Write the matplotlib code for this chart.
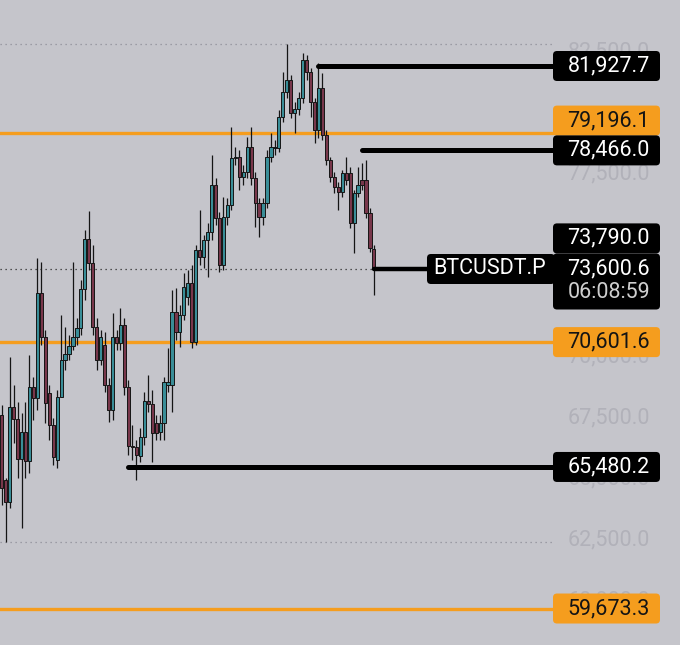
import matplotlib.pyplot as plt
from matplotlib.patches import FancyBboxPatch
from matplotlib.transforms import blended_transform_factory

plt.rcParams['font.family'] = ['Roboto', 'DejaVu Sans']

# BTCUSDT.P candles, oldest first
opens = [67612, 64945, 64043, 67940, 67447, 65807, 66915, 65725, 68760, 68309,
         72616, 70811, 68514, 67201, 65766, 68350, 69868, 70114, 70442, 70811,
         71181, 72780, 74831, 73847, 71222, 69868, 70483, 68842, 67817, 70811,
         70565, 71304, 68760, 66340, 66299, 65930, 66710, 68186, 68063, 67283,
         66915, 67283, 68842, 68842, 71837, 71016, 71714, 72452, 73026, 70606,
         74380, 74093, 74790, 75118, 77046, 75693, 73765, 75734, 76226, 78154,
         78195, 77375, 77580, 78605, 77334, 76308, 75734, 76308, 78195, 78564,
         78564, 79836, 80861, 81353, 79999, 80163, 80615, 82174, 81681, 80451,
         79302, 81025, 79098, 78072, 77375, 76964, 76759, 77539, 77539, 75488,
         76718, 77251, 77251, 75898, 74421]
closes = [64617, 64043, 67940, 67447, 65807, 66915, 65725, 68760, 68309, 72616,
          70811, 68104, 67201, 65889, 68350, 69868, 70114, 70442, 70811, 71181,
          72780, 74831, 73847, 71222, 69868, 70811, 68842, 67817, 70811, 70565,
          71304, 68760, 66340, 66299, 65971, 66710, 68186, 68063, 66874, 66874,
          67283, 68965, 68965, 71837, 71016, 71714, 72862, 73026, 70606, 74380,
          74093, 74790, 75118, 77046, 75693, 73765, 75734, 76226, 78154, 78195,
          77375, 77580, 78605, 77334, 76308, 75734, 76308, 78195, 78605, 78605,
          79836, 80861, 81353, 79999, 80163, 80615, 82174, 81681, 80451, 79302,
          81025, 79098, 78072, 77375, 76964, 76759, 77539, 77251, 75488, 76718,
          77046, 77046, 75898, 74462, 73600.6]
highs = [68022, 65027, 69991, 68842, 68145, 67694, 68145, 70073, 69170, 74052,
         73888, 71098, 68842, 67488, 68637, 71714, 71222, 70894, 73888, 71591,
         73149, 75200, 75980, 74585, 71591, 71098, 71016, 69129, 71796, 71098,
         72001, 71591, 69047, 67201, 66587, 67078, 68555, 69252, 68637, 67612,
         67612, 69170, 70360, 72739, 72821, 72124, 73436, 73560, 73765, 74585,
         76021, 74995, 75488, 78277, 77334, 75939, 76554, 76513, 79426, 78605,
         78482, 77867, 79015, 79426, 77580, 76513, 76513, 78482, 79179, 78892,
         80123, 81681, 82830, 81559, 80451, 80861, 82461, 82379, 81846, 80615,
         82051, 81640, 79302, 78195, 77580, 77169, 77662, 78195, 77785, 76841,
         77785, 77949, 78072, 76103, 74585]
lows = [63920, 62403, 63797, 66464, 65027, 62977, 65027, 65232, 67407, 67817,
        70483, 67283, 66587, 65561, 65438, 69047, 69457, 69868, 70278, 70483,
        70894, 72329, 73560, 70894, 69457, 69662, 68555, 67325, 67407, 70278,
        70278, 68432, 65971, 65766, 64945, 65684, 66381, 67735, 65684, 66587,
        66587, 66587, 68555, 67735, 70688, 70401, 71509, 72124, 70360, 70483,
        73765, 73642, 73272, 74790, 75406, 73477, 73560, 75406, 76021, 77867,
        76841, 77046, 77334, 77046, 75324, 74913, 75406, 76103, 77990, 78277,
        78400, 79631, 80615, 79795, 79179, 79918, 80410, 81353, 79836, 78769,
        78974, 78892, 77867, 77169, 76718, 76021, 76554, 77046, 75283, 74257,
        76554, 76841, 75693, 74298, 72534]

# horizontal levels
orange_levels = [79196.1, 70601.6, 59673.3]
black_levels = [81927.7, 78466.0, 65480.2]
black_starts = [80, 91, 32]          # candle index where each black line starts
extra_label = 73790.0
symbol = "BTCUSDT.P"
countdown = "06:08:59"
# price-scale ticks that peek out from behind the boxes
axis_ticks = [82500, 77500, 70000, 67500, 65000, 62500, 60000]

BG = '#c5c5cb'
TEAL = '#398d97'
MAROON = '#78374b'
ORANGE = '#f59d1e'
W, H = 680, 645
SCALE_X = 553      # left edge of price-scale boxes (px)

fig = plt.figure(figsize=(W / 100, H / 100), dpi=100)
fig.patch.set_facecolor(BG)
ax = fig.add_axes([0, 0, 1, 1])
ax.set_facecolor(BG)
ax.set_xlim(-0.43, 171.3)
ax.set_ylim(58177, 84635)
ax.axis('off')

x0, x1 = ax.get_xlim()
def px_to_x(px):
    return x0 + px / W * (x1 - x0)

idx = list(range(len(opens)))
ax.vlines(idx, lows, highs, color='#151515', lw=0.9, zorder=3)
bottoms = [min(o, c) for o, c in zip(opens, closes)]
heights = [max(abs(c - o), 25) for o, c in zip(opens, closes)]
colors = [TEAL if c >= o else MAROON for o, c in zip(opens, closes)]
ax.bar(idx, heights, bottom=bottoms, width=0.8, color=colors,
       edgecolor='#151515', linewidth=0.7, zorder=4)

# high / low dotted lines
for lvl in [max(highs), min(lows)]:
    ax.axhline(lvl, xmax=SCALE_X / W, color='#8e8e98', lw=0.9,
               ls=(0, (1, 3)), zorder=1)

last = closes[-1]
ax.axhline(last, xmax=427 / W, color='#2a2a2a', lw=0.9, ls=(0, (1, 3)), zorder=1)
ax.plot([idx[-1], px_to_x(430)], [last, last], color='black', lw=3.2,
        solid_capstyle='round', zorder=5)

for lvl in orange_levels:
    ax.axhline(lvl, xmax=SCALE_X / W, color=ORANGE, lw=2.4, zorder=2)

for lvl, st in zip(black_levels, black_starts):
    ax.plot([st, px_to_x(SCALE_X)], [lvl, lvl], color='black', lw=3.6,
            solid_capstyle='round', zorder=5)

trans = blended_transform_factory(ax.transAxes, ax.transData)
for t in axis_ticks:
    ax.text(650 / W, t, f"{t:,.1f}", transform=trans, ha='right', va='center',
            color='#b1b1b9', fontsize=15.5, zorder=1)

# overlay in pixel units for the price-scale boxes
ov = fig.add_axes([0, 0, 1, 1])
ov.set_xlim(0, W)
ov.set_ylim(H, 0)
ov.axis('off')
ov.patch.set_alpha(0)

def py(price):
    return H - ax.transData.transform((0, price))[1]

def box(x, yc, w, h, fc):
    ov.add_patch(FancyBboxPatch((x, yc - h / 2), w, h,
                                boxstyle="round,pad=0,rounding_size=4",
                                fc=fc, ec='none', zorder=6))

labels = [(81927.7, 'black', 0), (79196.1, 'orange', -12), (78466.0, 'black', 0),
          (extra_label, 'black', -26), (70601.6, 'orange', 0),
          (65480.2, 'black', 0), (59673.3, 'orange', 0)]
for price, kind, off in labels:
    yc = py(price) + off
    fc = ORANGE if kind == 'orange' else 'black'
    tc = '#141414' if kind == 'orange' else 'white'
    box(SCALE_X, yc, 107, 30, fc)
    ov.text(650, yc, f"{price:,.1f}", ha='right', va='center', color=tc,
            fontsize=15.5, zorder=7)

# current price box
yc = py(last)
ov.add_patch(FancyBboxPatch((SCALE_X, yc - 15.5), 107, 56,
                            boxstyle="round,pad=0,rounding_size=4",
                            fc='black', ec='none', zorder=6))
ov.text(650, yc, f"{last:,.1f}", ha='right', va='center', color='white',
        fontsize=15.5, zorder=7)
ov.text(650, yc + 24, countdown, ha='right', va='center', color='#cfcfcf',
        fontsize=15.5, zorder=7)
box(427, yc, 128, 30, 'black')
ov.text(490, yc, symbol, ha='center', va='center', color='white',
        fontsize=15.5, zorder=7)

fig.savefig('out.png', dpi=100, facecolor=BG)
